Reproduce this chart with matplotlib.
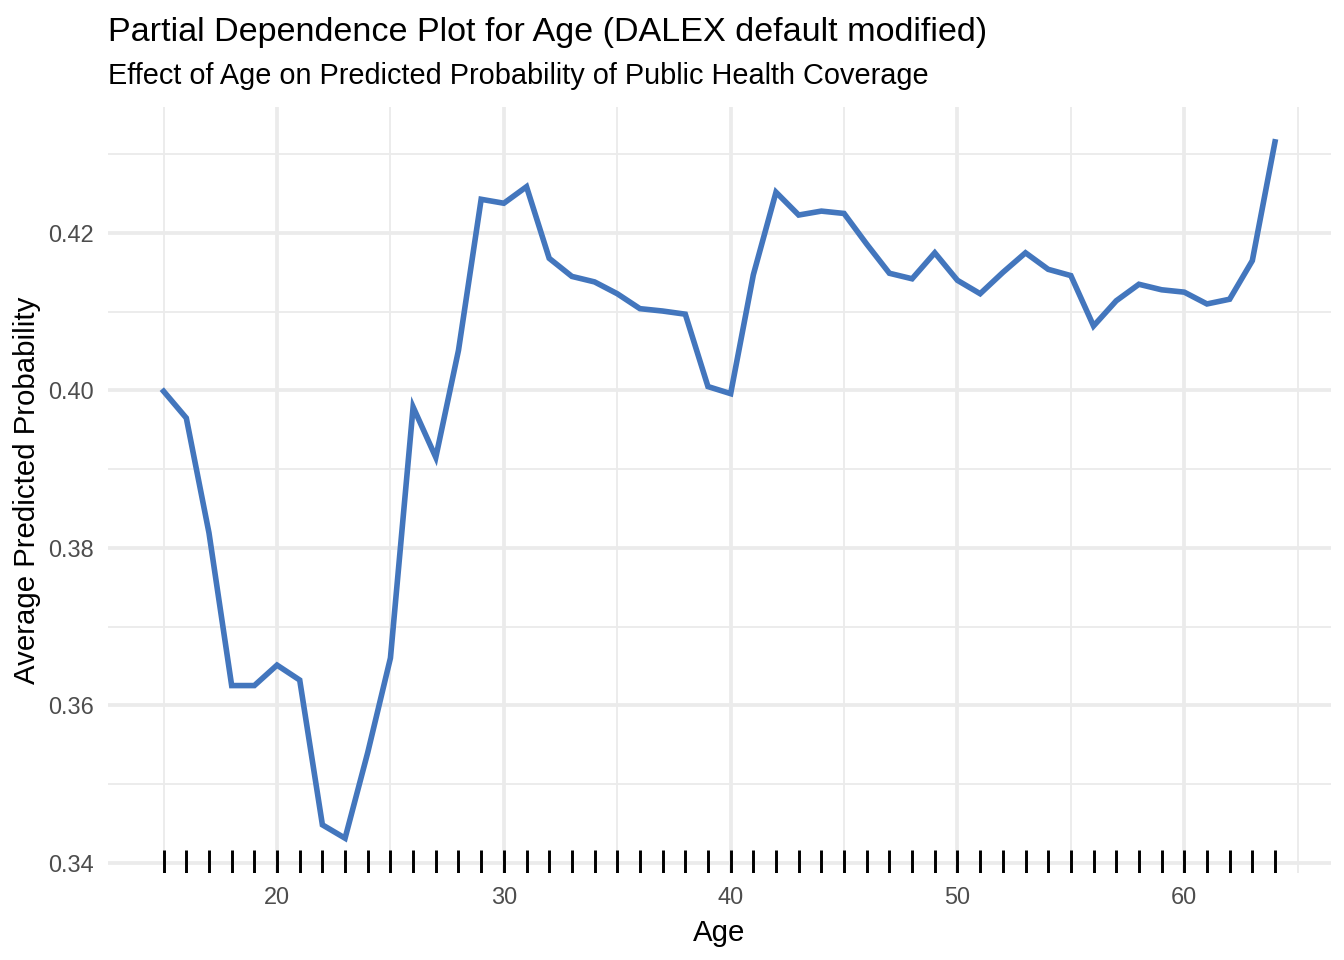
import matplotlib
matplotlib.use("Agg")
import matplotlib.pyplot as plt
from matplotlib.ticker import MultipleLocator, FixedLocator

ages = list(range(15, 65))
pd_values = [
    0.3999, 0.3965, 0.3819, 0.3625, 0.3625, 0.3651, 0.3632, 0.3448, 0.3431, 0.3540,
    0.3660, 0.3979, 0.3915, 0.4051, 0.4243, 0.4238, 0.4259, 0.4168, 0.4145, 0.4138,
    0.4123, 0.4104, 0.4101, 0.4097, 0.4005, 0.3996, 0.4147, 0.4252, 0.4223, 0.4228,
    0.4225, 0.4186, 0.4149, 0.4142, 0.4175, 0.4140, 0.4123, 0.4150, 0.4175, 0.4154,
    0.4146, 0.4082, 0.4114, 0.4135, 0.4128, 0.4125, 0.4110, 0.4116, 0.4165, 0.4316,
]
x_major = [20, 30, 40, 50, 60]
y_major = [0.34, 0.36, 0.38, 0.40, 0.42]
y_labels = ["0.34", "0.36", "0.38", "0.40", "0.42"]

title = "Partial Dependence Plot for Age (DALEX default modified)"
subtitle = "Effect of Age on Predicted Probability of Public Health Coverage"

plt.rcParams['font.family'] = ['Liberation Sans', 'DejaVu Sans']

fig = plt.figure(figsize=(7, 5), dpi=192)
ax = fig.add_axes([0.0804, 0.0906, 0.9096, 0.7979])

ax.plot(ages, pd_values, color="#4376BD", linewidth=2.1, solid_joinstyle="miter", zorder=3)
ax.vlines(ages, 0, 0.03, transform=ax.get_xaxis_transform(), color="black", linewidth=1.1, zorder=3)

xr = max(ages) - min(ages)
ax.set_xlim(min(ages) - 0.05 * xr, max(ages) + 0.05 * xr)
yr = max(pd_values) - min(pd_values)
ax.set_ylim(min(pd_values) - 0.05 * yr, max(pd_values) + 0.05 * yr)

ax.xaxis.set_major_locator(FixedLocator(x_major))
ax.xaxis.set_minor_locator(MultipleLocator(5))
ax.set_yticks(y_major)
ax.set_yticklabels(y_labels)
ax.yaxis.set_minor_locator(MultipleLocator(0.01))

ax.grid(which="major", color="#EBEBEB", linewidth=1.4)
ax.grid(which="minor", color="#EBEBEB", linewidth=0.7)
ax.set_axisbelow(True)
for s in ax.spines.values():
    s.set_visible(False)
ax.tick_params(which="both", length=0)
ax.tick_params(axis="both", labelsize=8.8, labelcolor="#4D4D4D")
ax.tick_params(axis="x", pad=5)
ax.tick_params(axis="y", pad=5.5)

ax.set_xlabel("Age", fontsize=11, color="black", labelpad=3.5)
ax.set_ylabel("Average Predicted Probability", fontsize=11, color="black", labelpad=2.5)

fig.text(108 / 1344, 1 - 41 / 960, title, fontsize=12.8, ha="left", va="baseline", color="black")
fig.text(108 / 1344, 1 - 84 / 960, subtitle, fontsize=10.85, ha="left", va="baseline", color="black")

fig.savefig("out.png", dpi=192, facecolor="white")
